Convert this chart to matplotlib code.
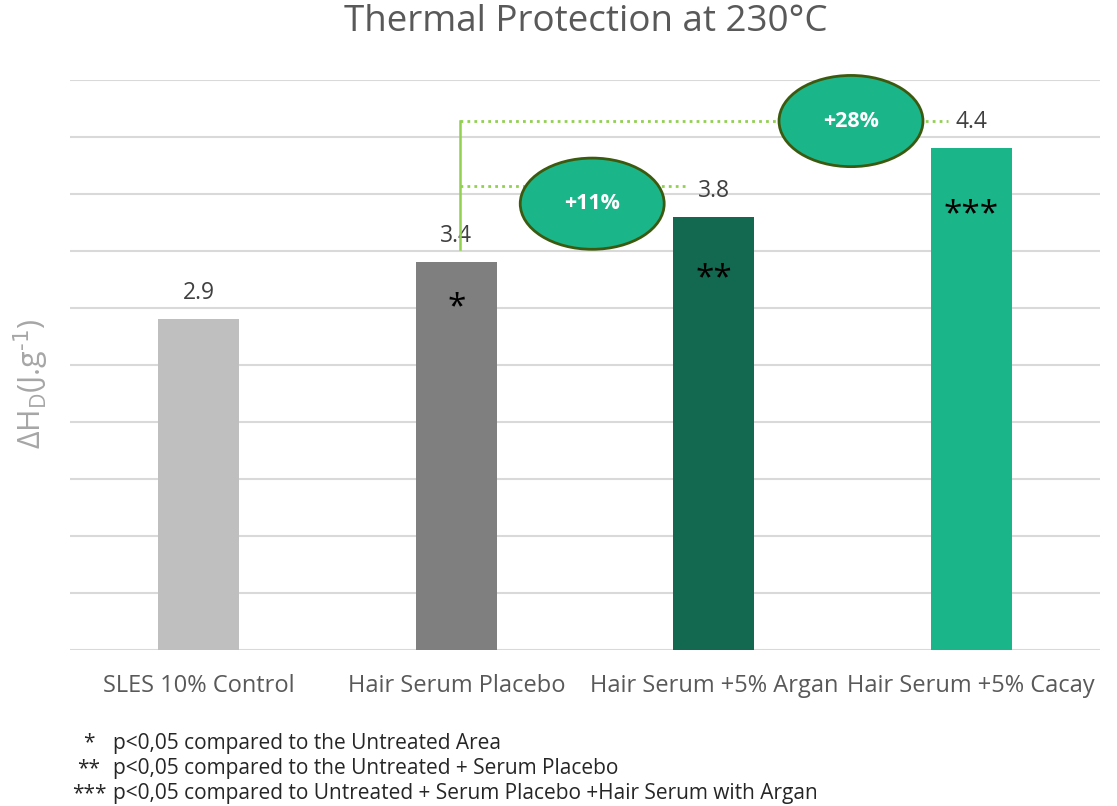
import numpy as np
import matplotlib
matplotlib.use("Agg")
import matplotlib.pyplot as plt
from matplotlib.patches import Ellipse

plt.rcParams['font.family'] = ['Open Sans', 'DejaVu Sans']
plt.rcParams['mathtext.default'] = 'regular'

# data
categories = ['SLES 10% Control', 'Hair Serum Placebo', 'Hair Serum +5% Argan', 'Hair Serum +5% Cacay']
values = [2.9, 3.4, 3.8, 4.4]
stars = ['', '*', '**', '***']
bar_colors = ['#BFBFBF', '#7F7F7F', '#136950', '#1BB58A']
increases = ['+11%', '+28%']
footnotes = ['p<0,05 compared to the Untreated Area',
             'p<0,05 compared to the Untreated + Serum Placebo',
             'p<0,05 compared to Untreated + Serum Placebo +Hair Serum with Argan']
foot_marks = ['*', '**', '***']

fig = plt.figure(figsize=(11.17, 8.06), dpi=100)
ax = fig.add_axes([70 / 1117, 156 / 806, 1030 / 1117, 570 / 806])

x = np.arange(len(categories))
ax.bar(x, values, width=0.315, color=bar_colors, zorder=2)

ax.set_xlim(-0.5, 3.5)
ax.set_ylim(0, 5)
ax.set_yticks(np.arange(0, 5.01, 0.5))
ax.yaxis.grid(True, color='#D9D9D9', linewidth=1.5, zorder=0)
ax.set_yticklabels([])
ax.tick_params(axis='y', length=0)
ax.tick_params(axis='x', length=0, pad=17)
ax.set_xticks(x)
ax.set_xticklabels(categories, fontsize=17, color='#595959')
for s in ax.spines.values():
    s.set_visible(False)

# value labels and stars
star_off = [0, -45, -62, -66]
for i, v in enumerate(values):
    ax.annotate(f'{v}', (x[i], v), xytext=(0, 26), textcoords='offset pixels',
                ha='center', va='center', fontsize=16.5, color='#404040')
    if stars[i]:
        ax.annotate(stars[i], (x[i], v), xytext=(0, star_off[i]), textcoords='offset pixels',
                    ha='center', va='center', fontsize=24, color='black')

# comparison brackets
line_col = '#92D050'
y_hi = values[3] + 0.24
y_lo = values[2] + 0.27
x0 = x[1] + 0.016
ax.plot([x0, x0], [values[1] + 0.115, y_hi], color=line_col, lw=1.8, zorder=3)
ax.plot([x0, x[2] - 0.1], [y_lo, y_lo], color=line_col, lw=2, ls=(0, (1, 1.5)), zorder=3)
ax.plot([x0, x[3] - 0.09], [y_hi, y_hi], color=line_col, lw=2, ls=(0, (1, 1.5)), zorder=3)

for cx, cy, txt in [(1.528, 3.915, increases[0]), (2.533, y_hi, increases[1])]:
    e = Ellipse((cx, cy), 0.559, 0.80, facecolor='#1BB58A', edgecolor='#3C5A0F',
                lw=2, zorder=4, clip_on=False)
    ax.add_patch(e)
    ax.text(cx, cy, txt, ha='center', va='center', fontsize=15.5, fontweight='bold',
            color='white', zorder=5)

ax.set_ylabel(r'$\Delta$H$_D$(J.g$^{\text{-1}}$)', fontsize=22, color='#A6A6A6')
ax.yaxis.set_label_coords(-0.018, 0.467)

fig.text(586 / 1117, 1 - 22 / 806, 'Thermal Protection at 230°C', ha='center', va='center',
         fontsize=26.5, color='#595959')

for k, (m, t) in enumerate(zip(foot_marks, footnotes)):
    yy = 1 - (743 + 25.5 * k) / 806
    fig.text(89 / 1117, yy, m, ha='center', va='center', fontsize=15, color='#262626')
    fig.text(113 / 1117, yy, t, ha='left', va='center', fontsize=15, color='#262626')

fig.savefig('out.png', dpi=100)
